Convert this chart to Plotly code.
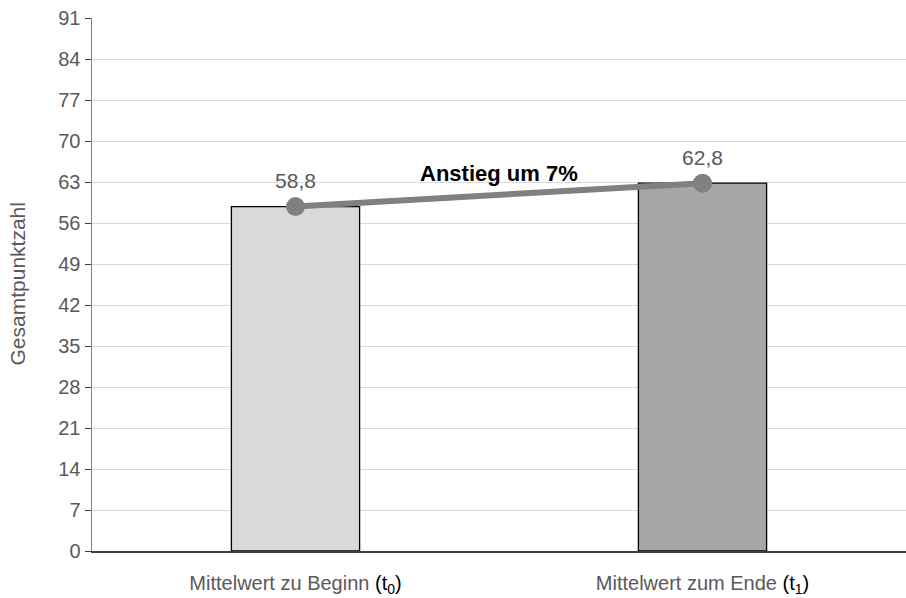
import plotly.graph_objects as go

categories = ["Mittelwert zu Beginn", "Mittelwert zum Ende"]
subscripts = ["0", "1"]
values = [58.8, 62.8]
value_labels = ["58,8", "62,8"]
bar_colors = ["#d9d9d9", "#a6a6a6"]
annotation_text = "Anstieg um 7%"
y_title = "Gesamtpunktzahl"
y_ticks = [0, 7, 14, 21, 28, 35, 42, 49, 56, 63, 70, 77, 84, 91]

tick_text = [f"{c} <span style='color:#000000'>(t<sub>{s}</sub>)</span>" for c, s in zip(categories, subscripts)]
xpos = [0, 1]

FONT = "Liberation Sans, Arial, sans-serif"
GRAY = "#595959"

L, T, B = 92, 18, 47
W, H = 906, 598
PLOT_W = W - L

fig = go.Figure()
fig.add_trace(go.Bar(
    x=xpos, y=values, width=0.315,
    marker=dict(color=bar_colors, line=dict(color="#000000", width=1.3)),
    hoverinfo="skip", showlegend=False,
))
fig.add_trace(go.Scatter(
    x=xpos, y=values, mode="lines+markers+text",
    line=dict(color="#808080", width=6),
    marker=dict(color="#808080", size=19),
    text=value_labels, textposition="top center",
    textfont=dict(family=FONT, size=21, color=GRAY),
    showlegend=False, cliponaxis=False, hoverinfo="skip",
))
fig.add_annotation(
    x=0.5, y=64.5, text=f"<b>{annotation_text}</b>", showarrow=False,
    font=dict(family=FONT, size=22, color="#000000"),
)
fig.add_annotation(
    xref="paper", yref="paper", x=(17 - L) / PLOT_W, y=0.5,
    text=y_title, textangle=-90, showarrow=False,
    xanchor="center", yanchor="middle",
    font=dict(family=FONT, size=21, color=GRAY),
)

fig.update_layout(
    width=W, height=H,
    margin=dict(l=L, r=0, t=T, b=B, autoexpand=False),
    paper_bgcolor="white", plot_bgcolor="white",
    font=dict(family=FONT, size=20, color=GRAY),
    bargap=0,
)
fig.update_xaxes(
    tickmode="array", tickvals=xpos, ticktext=tick_text,
    range=[-0.5, 1.5], showgrid=False, automargin=False,
    showline=True, linecolor="#404040", linewidth=1.5,
    ticks="", ticklabelstandoff=13, ticklabeloverflow="allow",
    tickfont=dict(family=FONT, size=20, color=GRAY),
)
fig.update_yaxes(
    range=[0, 91], tickmode="array", tickvals=y_ticks, automargin=False,
    showgrid=True, gridcolor="#d9d9d9", gridwidth=1,
    showline=True, linecolor="#7f7f7f", linewidth=1.5,
    ticks="outside", ticklen=6, tickcolor="#404040", ticklabeloverflow="allow",
    tickfont=dict(family=FONT, size=20, color=GRAY),
    zeroline=False,
)

fig.write_html(
    "out.html",
    config={"displayModeBar": False, "staticPlot": True},
    post_script="document.body.style.margin='0';",
)
